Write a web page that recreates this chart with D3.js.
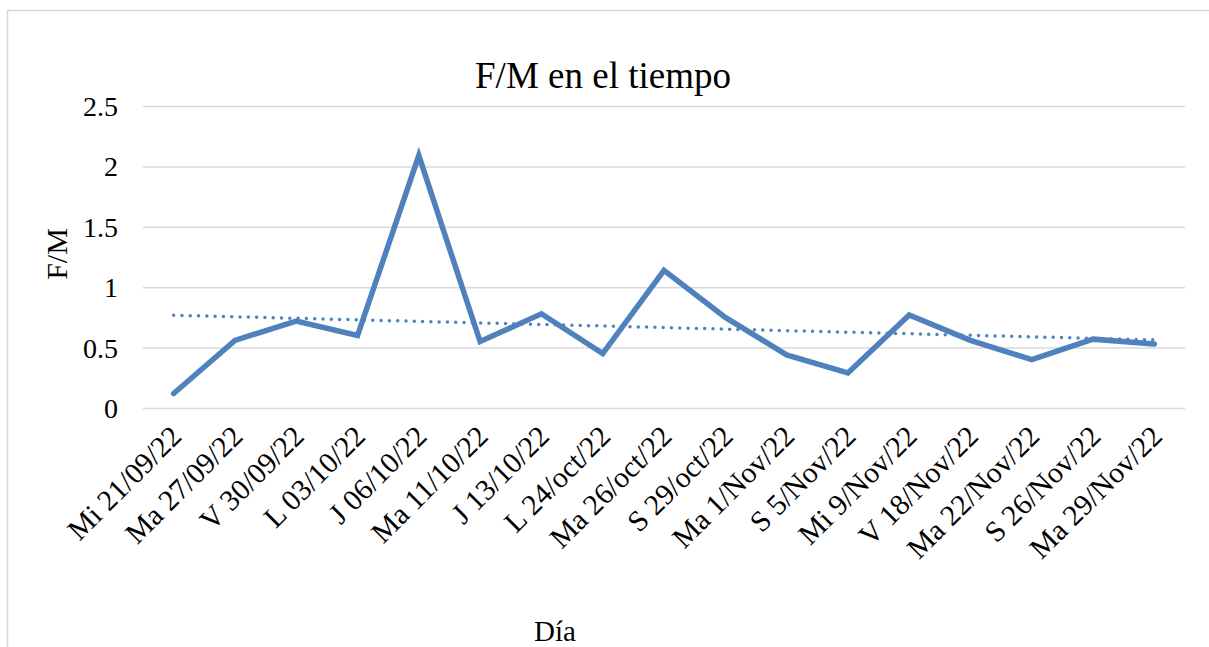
<!DOCTYPE html>
<html>
<head>
<meta charset="utf-8">
<script src="https://cdn.jsdelivr.net/npm/d3@7"></script>
<style>
  html, body { margin: 0; padding: 0; background: #fff; }
  svg { display: block; }
  text { font-family: "Liberation Serif", "Times New Roman", serif; fill: #000; }
</style>
</head>
<body>
<svg id="chart" width="1209" height="647"></svg>
<script>
const categories = ["Mi 21/09/22","Ma 27/09/22","V 30/09/22","L 03/10/22","J 06/10/22","Ma 11/10/22","J 13/10/22","L 24/oct/22","Ma 26/oct/22","S 29/oct/22","Ma 1/Nov/22","S 5/Nov/22","Mi 9/Nov/22","V 18/Nov/22","Ma 22/Nov/22","S 26/Nov/22","Ma 29/Nov/22"];
const fmValues = [0.12,0.56,0.72,0.60,2.09,0.55,0.78,0.45,1.14,0.75,0.44,0.29,0.77,0.56,0.40,0.57,0.53];
const yTicks = [0,0.5,1,1.5,2,2.5];
const title = "F/M en el tiempo";
const xTitle = "Día";
const yTitle = "F/M";

const svg = d3.select("#chart");
const W = 1209, H = 647;
const plot = {left: 143, right: 1185, top: 106, bottom: 408};

// chart area border
svg.append("rect").attr("x", 7.5).attr("y", 10.5).attr("width", W + 10).attr("height", H + 10)
  .attr("fill", "#fff").attr("stroke", "#d9d9d9").attr("stroke-width", 1.5);

const x = d3.scalePoint().domain(categories).range([plot.left, plot.right]).padding(0.5);
const y = d3.scaleLinear().domain([0, 2.5]).range([plot.bottom, plot.top]);

// gridlines + y tick labels
const yAxis = d3.axisLeft(y).tickValues(yTicks).tickSize(-(plot.right - plot.left)).tickPadding(25)
  .tickFormat(d => String(d));
const gy = svg.append("g").attr("transform", `translate(${plot.left},0)`).call(yAxis);
gy.select(".domain").remove();
gy.selectAll(".tick line").attr("stroke", "#d9d9d9").attr("stroke-width", 1.5);
gy.selectAll(".tick text").attr("font-size", 28).attr("font-family", "Liberation Serif").attr("fill", "#000").attr("dy", "0.34em");

// x axis labels
const xAxis = d3.axisBottom(x).tickSize(0).tickPadding(0);
const gx = svg.append("g").attr("transform", `translate(0,${plot.bottom})`).call(xAxis);
gx.select(".domain").remove();
gx.selectAll(".tick text")
  .attr("font-size", 29.5).attr("font-family", "Liberation Serif").attr("fill", "#000")
  .attr("text-anchor", "end")
  .attr("dy", 0).attr("y", 0)
  .attr("transform", "translate(9,30) rotate(-45)");

// main line
const line = d3.line().x((d, i) => x(categories[i])).y(d => y(d));
svg.append("path").datum(fmValues).attr("d", line)
  .attr("fill", "none").attr("stroke", "#4f81bd").attr("stroke-width", 5.5)
  .attr("stroke-linejoin", "miter").attr("stroke-linecap", "round");

// linear trendline (least squares)
const n = fmValues.length;
const xs = d3.range(1, n + 1);
const mx = d3.mean(xs), my = d3.mean(fmValues);
const slope = d3.sum(xs.map((xi, i) => (xi - mx) * (fmValues[i] - my))) / d3.sum(xs.map(xi => (xi - mx) ** 2));
const intercept = my - slope * mx;
const trend = [1, n].map(xi => ({c: categories[xi - 1], v: intercept + slope * xi}));
svg.append("path").datum(trend)
  .attr("d", d3.line().x(d => x(d.c)).y(d => y(d.v)))
  .attr("fill", "none").attr("stroke", "#4f81bd").attr("stroke-width", 3.5)
  .attr("stroke-dasharray", "0 8.3").attr("stroke-linecap", "round");

// titles
svg.append("text").attr("x", 603).attr("y", 88).attr("text-anchor", "middle")
  .attr("font-size", 37).text(title);
svg.append("text").attr("transform", "translate(67,254) rotate(-90)").attr("text-anchor", "middle")
  .attr("font-size", 30).text(yTitle);
svg.append("text").attr("x", 555).attr("y", 641).attr("text-anchor", "middle")
  .attr("font-size", 29).text(xTitle);
</script>
</body>
</html>
